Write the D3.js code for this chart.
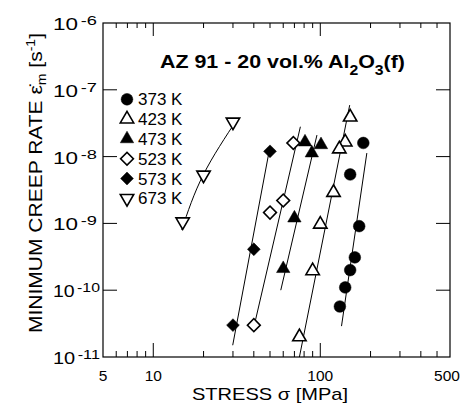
<!DOCTYPE html>
<html>
<head>
<meta charset="utf-8">
<script src="https://cdn.jsdelivr.net/npm/d3@7"></script>
<style>
  html, body { margin: 0; padding: 0; background: #fff; }
  svg { display: block; font-family: "Liberation Sans", Arial, Helvetica, sans-serif; }
</style>
</head>
<body>
<svg id="chart" width="463" height="405"></svg>
<script>
// legend entries (temperature) and marker style
const temps = ['373 K', '423 K', '473 K', '523 K', '573 K', '673 K'];
const shapes = ['circle', 'triUp', 'triUp', 'diamond', 'diamond', 'triDown'];
const filled = [true, false, true, false, true, false];

// measured points: [stress MPa, min creep rate 1/s]
const pts373 = [[181, 1.6e-8], [151, 5.4e-9], [171, 9.1e-10], [161, 3.1e-10], [151, 2.0e-10], [141, 1.1e-10], [131, 5.7e-11]];
const pts423 = [[151, 3.9e-8], [141, 1.65e-8], [130, 1.3e-8], [120, 2.9e-9], [100, 9.7e-10], [90, 1.95e-10], [75, 2.0e-11]];
const pts473 = [[81, 1.65e-8], [101, 1.5e-8], [89, 1.13e-8], [70, 1.2e-9], [60, 2.1e-10]];
const pts523 = [[69, 1.6e-8], [60, 2.2e-9], [50, 1.45e-9], [40, 3.0e-11]];
const pts573 = [[50, 1.2e-8], [40, 4.1e-10], [30, 3.0e-11]];
const pts673 = [[30, 3.3e-8], [20, 5.3e-9], [15, 1.06e-9]];

// fitted lines
const fit373 = [[134, 2.9e-11], [190, 1.13e-8]];
const fit423 = [[75, 1.0e-11], [150, 5.9e-8]];
const fit473 = [[58, 1.0e-10], [95.5, 2.1e-8]];
const fit523 = [[39.6, 2.5e-11], [76, 2.8e-8]];
const fit573 = [[29.9, 1.5e-11], [49.3, 1.17e-8]];
const fit673 = [[14.8, 8.0e-10], [19.9, 5.3e-9], [32.2, 3.8e-8]];

// ticks
const xMinor = [6, 7, 8, 9, 20, 30, 40, 50, 60, 70, 80, 90, 200, 300, 400, 500];
const xMajor = [10, 100];
const xLabels = ['5', '10', '100', '500'];
const yExp = [-11, -10, -9, -8, -7, -6];

const series = [pts373, pts423, pts473, pts523, pts573, pts673];
const fits = [fit373, fit423, fit473, fit523, fit573, fit673];

const svg = d3.select('#chart');
const pLeft = 103, pRight = 450, pTop = 23, pBottom = 357;

const x = d3.scaleLog().domain([5, 598]).range([pLeft, pRight]);
const y = d3.scaleLog().domain([1e-11, 1e-6]).range([pBottom, pTop]);

// clip for lines
svg.append('clipPath').attr('id', 'plot')
  .append('rect').attr('x', pLeft).attr('y', pTop)
  .attr('width', pRight - pLeft).attr('height', pBottom - pTop);

// marker paths
const markerPath = (shape) => {
  if (shape === 'circle') return d3.symbol(d3.symbolCircle, 108)();
  if (shape === 'diamond') return d3.symbol(d3.symbolSquare, 82)();
  return d3.symbol(d3.symbolTriangle, 78)();
};
const markerRot = (shape) => (shape === 'diamond' ? 45 : shape === 'triDown' ? 180 : 0);

const drawMarker = (g, i, px, py) => {
  g.append('path')
    .attr('d', markerPath(shapes[i]))
    .attr('transform', `translate(${px},${py}) rotate(${markerRot(shapes[i])})`)
    .attr('fill', filled[i] ? '#000' : '#fff')
    .attr('stroke', '#000')
    .attr('stroke-width', filled[i] ? 0.5 : 1.6)
    .attr('stroke-linejoin', 'miter');
};

// fit lines
const line = d3.line().x(d => x(d[0])).y(d => y(d[1]));
const lineG = svg.append('g').attr('clip-path', 'url(#plot)');
fits.forEach((f, i) => {
  lineG.append('path')
    .attr('d', line.curve(i === 5 ? d3.curveNatural : d3.curveLinear)(f))
    .attr('fill', 'none')
    .attr('stroke', '#000')
    .attr('stroke-width', 1);
});

// data markers
const markG = svg.append('g');
series.forEach((pts, i) => {
  pts.forEach(d => drawMarker(markG, i, x(d[0]), y(d[1])));
});

// frame
svg.append('rect')
  .attr('x', pLeft).attr('y', pTop)
  .attr('width', pRight - pLeft).attr('height', pBottom - pTop)
  .attr('fill', 'none').attr('stroke', '#000').attr('stroke-width', 1.2);

// x ticks (bottom + top, inside)
const tickG = svg.append('g').attr('stroke', '#000').attr('stroke-width', 1);
xMinor.forEach(v => {
  tickG.append('line').attr('x1', x(v)).attr('x2', x(v)).attr('y1', pBottom).attr('y2', pBottom - 6);
  tickG.append('line').attr('x1', x(v)).attr('x2', x(v)).attr('y1', pTop).attr('y2', pTop + 5);
});
xMajor.forEach(v => {
  tickG.append('line').attr('x1', x(v)).attr('x2', x(v)).attr('y1', pBottom).attr('y2', pBottom - 14);
  tickG.append('line').attr('x1', x(v)).attr('x2', x(v)).attr('y1', pTop).attr('y2', pTop + 13);
});
// y ticks (left + right, inside)
yExp.slice(1, 5).forEach(e => {
  const v = Math.pow(10, e);
  tickG.append('line').attr('x1', pLeft).attr('x2', pLeft + 14).attr('y1', y(v)).attr('y2', y(v));
  tickG.append('line').attr('x1', pRight).attr('x2', pRight - 14).attr('y1', y(v)).attr('y2', y(v));
});

// x tick labels
xLabels.forEach(s => {
  const v = +s;
  svg.append('text')
    .attr('x', x(v) + (v === 500 ? 10 : 0))
    .attr('y', 381)
    .attr('text-anchor', 'middle')
    .attr('font-size', 15.5)
    .text(s);
});

// y tick labels 10^n
yExp.forEach(e => {
  const t = svg.append('text')
    .attr('x', 53)
    .attr('y', y(Math.pow(10, e)) + 7)
    .attr('font-size', 16)
    .attr('textLength', e <= -10 ? 47 : 44)
    .attr('lengthAdjust', 'spacingAndGlyphs');
  t.append('tspan').text('10');
  t.append('tspan').attr('dx', 2).attr('dy', -5).attr('font-size', 13).text(String(e));
});

// axis titles
svg.append('text')
  .attr('x', 270).attr('y', 400)
  .attr('text-anchor', 'middle')
  .attr('font-size', 17)
  .attr('textLength', 156)
  .attr('lengthAdjust', 'spacingAndGlyphs')
  .text('STRESS  \u03C3 [MPa]');

const yt = svg.append('text')
  .attr('transform', 'translate(42,183) rotate(-90)')
  .attr('text-anchor', 'middle')
  .attr('font-size', 18)
  .attr('textLength', 300)
  .attr('lengthAdjust', 'spacingAndGlyphs');
yt.append('tspan').text('MINIMUM CREEP RATE  \u03B5\u0307');
yt.append('tspan').attr('font-size', 12).attr('dy', 4).text('m');
yt.append('tspan').attr('dy', -4).text(' [s');
yt.append('tspan').attr('font-size', 12).attr('dy', -7).text('-1');
yt.append('tspan').attr('dy', 7).text(']');

// title
const tt = svg.append('text')
  .attr('x', 160).attr('y', 68)
  .attr('font-size', 19)
  .attr('font-weight', 'bold')
  .attr('textLength', 245)
  .attr('lengthAdjust', 'spacingAndGlyphs');
tt.append('tspan').text('AZ 91 - 20 vol.% Al');
tt.append('tspan').attr('font-size', 14).attr('dy', 7).text('2');
tt.append('tspan').attr('dy', -7).text('O');
tt.append('tspan').attr('font-size', 14).attr('dy', 7).text('3');
tt.append('tspan').attr('dy', -7).text('(f)');

// legend
const legG = svg.append('g');
temps.forEach((name, i) => {
  const ly = 99.3 + i * 19.8;
  drawMarker(legG, i, 127, ly);
  legG.append('text')
    .attr('x', 138).attr('y', ly + 6)
    .attr('font-size', 17)
    .text(name);
});
</script>
</body>
</html>
